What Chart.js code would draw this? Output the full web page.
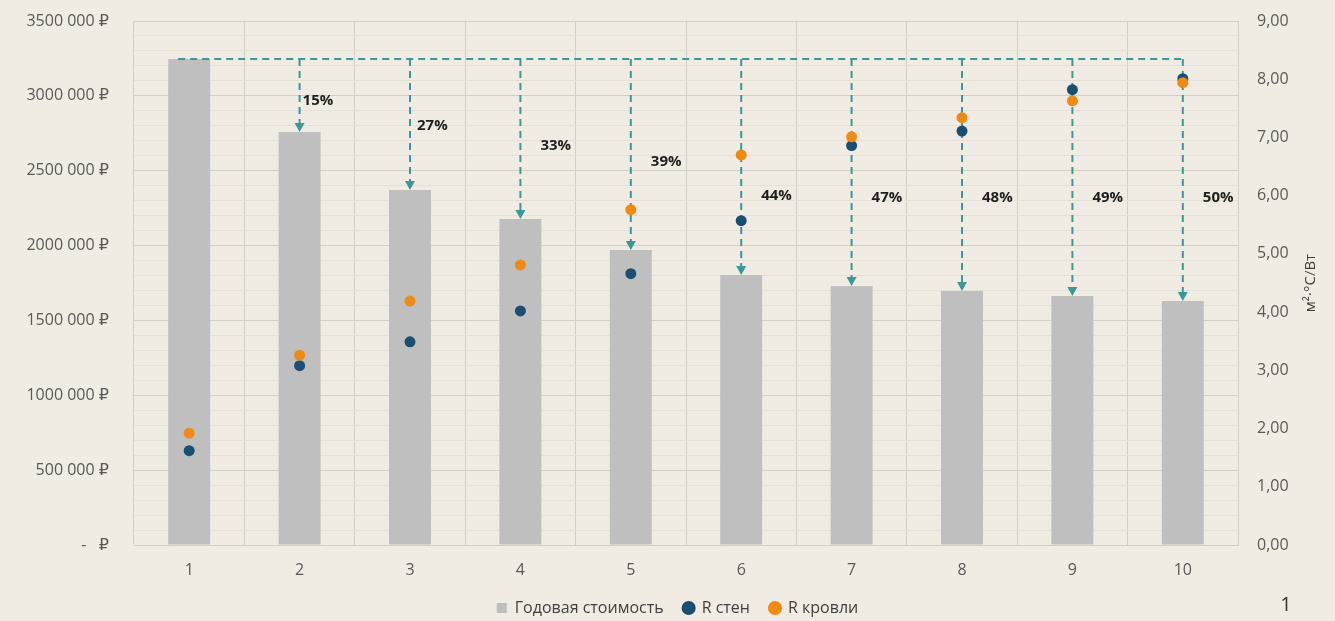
<!DOCTYPE html>
<html>
<head>
<meta charset="utf-8">
<script src="https://cdn.jsdelivr.net/npm/chart.js@4"></script>
<style>
  body { margin: 0; background: #f0ece3; }
  #wrap { width: 1335px; height: 621px; position: relative; }
</style>
</head>
<body>
<div id="wrap"><canvas id="cost-chart"></canvas></div>
<script>
// Chart data
const categories = ['1', '2', '3', '4', '5', '6', '7', '8', '9', '10'];
const yearly_cost = [3246000, 2759000, 2371000, 2178000, 1970000, 1804000, 1730000, 1697000, 1663000, 1630000];
const r_walls = [1.62, 3.08, 3.49, 4.02, 4.66, 5.57, 6.86, 7.11, 7.82, 8.01];
const r_roof = [1.92, 3.26, 4.19, 4.81, 5.76, 6.70, 7.01, 7.34, 7.63, 7.94];
const saving_labels = ['', '15%', '27%', '33%', '39%', '44%', '47%', '48%', '49%', '50%'];
// where the percent labels sit, in left-axis units
const saving_label_at = [0, 2966000, 2799000, 2665000, 2558000, 2331000, 2318000, 2318000, 2318000, 2318000];

const font_family = "'Open Sans', 'DejaVu Sans', sans-serif";
const teal = '#3a9896';

function format_rub(v) {
    if (v === 0) return '-   \u20BD';
    const s = String(v);
    // Excel style: "3500 000 ₽"
    return s.slice(0, s.length - 3) + ' ' + s.slice(-3) + ' \u20BD';
}

function draw_arrow_head(ctx, x, y) {
    ctx.beginPath();
    ctx.moveTo(x, y);
    ctx.lineTo(x - 5, y - 9);
    ctx.lineTo(x + 5, y - 9);
    ctx.closePath();
    ctx.fill();
}

// dashed arrows from the first bar down to every other bar
const arrows_plugin = {
    id: 'arrows',
    afterDatasetDraw(chart, args) {
        if (args.meta.type !== 'bar') return;
        const ctx = chart.ctx;
        const x_scale = chart.scales.x;
        const y_scale = chart.scales.y;
        const top_y = y_scale.getPixelForValue(yearly_cost[0]);
        const last_x = x_scale.getPixelForValue(categories.length - 1);
        ctx.save();
        ctx.strokeStyle = teal;
        ctx.fillStyle = teal;
        ctx.lineWidth = 2;
        ctx.setLineDash([7, 5]);
        ctx.beginPath();
        ctx.moveTo(x_scale.getPixelForValue(0) - 11, top_y);
        ctx.lineTo(last_x, top_y);
        ctx.stroke();
        for (let i = 1; i < yearly_cost.length; i++) {
            const x = x_scale.getPixelForValue(i);
            const bar_y = y_scale.getPixelForValue(yearly_cost[i]);
            ctx.beginPath();
            ctx.moveTo(x, top_y);
            ctx.lineTo(x, bar_y - 9);
            ctx.stroke();
            draw_arrow_head(ctx, x, bar_y);
        }
        ctx.setLineDash([]);
        ctx.fillStyle = '#1e1e1e';
        ctx.font = 'bold 15px ' + font_family;
        ctx.textBaseline = 'middle';
        for (let i = 1; i < saving_labels.length; i++) {
            const x = x_scale.getPixelForValue(i);
            const offset = i === 1 ? 3 : (i === 2 ? 7 : 20);
            ctx.fillText(saving_labels[i], x + offset, y_scale.getPixelForValue(saving_label_at[i]));
        }
        ctx.restore();
    },
    afterDraw(chart) {
        const ctx = chart.ctx;
        ctx.save();
        ctx.fillStyle = '#404040';
        ctx.font = '15px ' + font_family;
        ctx.textAlign = 'center';
        ctx.textBaseline = 'middle';
        ctx.translate(1311, 283);
        ctx.rotate(-Math.PI / 2);
        ctx.fillText('м²·°С/Вт', 0, 0);
        ctx.restore();
        ctx.save();
        ctx.fillStyle = '#333';
        ctx.font = '20px ' + font_family;
        ctx.textAlign = 'center';
        ctx.textBaseline = 'middle';
        ctx.fillText('1', 1286, 605);
        ctx.restore();
    }
};

const data = {
    labels: categories,
    datasets: [{
        type: 'bar',
        label: 'Годовая стоимость',
        data: yearly_cost,
        backgroundColor: '#bfbfbf',
        barPercentage: 0.38,
        categoryPercentage: 1,
        pointStyle: 'rect',
        yAxisID: 'y',
        order: 3
    }, {
        type: 'line',
        label: 'R стен',
        data: r_walls,
        showLine: false,
        backgroundColor: '#1b4e73',
        borderColor: '#1b4e73',
        borderWidth: 0,
        pointRadius: 5.5,
        pointStyle: 'circle',
        yAxisID: 'y1',
        order: 2
    }, {
        type: 'line',
        label: 'R кровли',
        data: r_roof,
        showLine: false,
        backgroundColor: '#ef8a14',
        borderColor: '#ef8a14',
        borderWidth: 0,
        pointRadius: 5.5,
        pointStyle: 'circle',
        yAxisID: 'y1',
        order: 1
    }]
};

const options = {
    responsive: true,
    maintainAspectRatio: false,
    animation: false,
    layout: { padding: { top: 21, left: 20, right: 0, bottom: -5 } },
    plugins: {
        tooltip: { enabled: false },
        legend: {
            position: 'bottom',
            labels: {
                usePointStyle: true,
                boxWidth: 10,
                boxHeight: 10,
                padding: 20,
                color: '#404040',
                font: { family: font_family, size: 16 },
                sort: (a, b) => a.datasetIndex - b.datasetIndex
            }
        }
    },
    scales: {
        x: {
            grid: { offset: true, color: '#d2cec8', drawTicks: false },
            border: { color: '#d2cec8' },
            ticks: { color: '#595959', padding: 16, font: { family: font_family, size: 16 } },
            afterFit(scale) { scale.height = 35; }
        },
        y: {
            position: 'left',
            min: 0,
            max: 3500000,
            grid: {
                drawTicks: false,
                color: (c) => (c.tick && c.tick.value % 500000 === 0) ? '#d2cec8' : '#e4e0d8'
            },
            border: { display: false },
            ticks: {
                stepSize: 100000,
                autoSkip: false,
                padding: 25,
                color: '#595959',
                font: { family: font_family, size: 16 },
                callback: (v) => (v % 500000 === 0 ? format_rub(v) : '')
            },
            afterFit(scale) {
                scale.width = 114;
                scale.paddingTop = 0;
                scale.paddingBottom = 0;
            }
        },
        y1: {
            position: 'right',
            min: 0,
            max: 9,
            grid: { drawOnChartArea: false, drawTicks: false },
            border: { display: false },
            ticks: {
                stepSize: 1,
                padding: 19,
                color: '#595959',
                font: { family: font_family, size: 16 },
                callback: (v) => v.toFixed(2).replace('.', ',')
            },
            afterFit(scale) {
                scale.width = 97;
                scale.paddingTop = 0;
                scale.paddingBottom = 0;
            }
        }
    }
};

const ctx = document.getElementById('cost-chart').getContext('2d');
const cost_chart = new Chart(ctx, {
    type: 'bar',
    data: data,
    options: options,
    plugins: [arrows_plugin]
});
</script>
</body>
</html>
